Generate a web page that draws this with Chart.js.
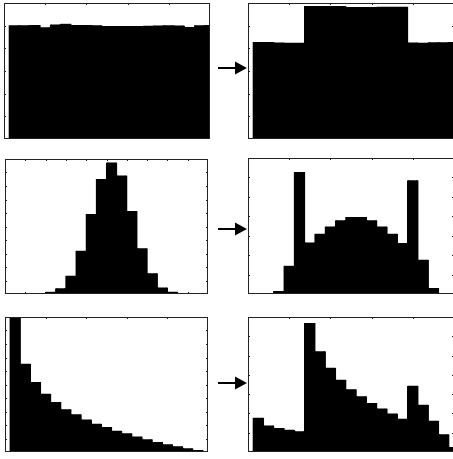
<!DOCTYPE html>
<html>
<head>
<meta charset="utf-8">
<script src="https://cdn.jsdelivr.net/npm/chart.js@4"></script>
<style>
  html, body { margin: 0; padding: 0; background: #fff; overflow: hidden; width: 453px; height: 459px; }
  .panel { position: absolute; }
  svg { position: absolute; left: 0; top: 0; pointer-events: none; }
</style>
</head>
<body>
<script>
// ---- data: bin centres and bar heights ----
const binCentersInt  = [1,2,3,4,5,6,7,8,9,10,11,12,13,14,15,16,17,18,19,20];
const binCentersHalf = [0.5,1.5,2.5,3.5,4.5,5.5,6.5,7.5,8.5,9.5,10.5,11.5,12.5,13.5,14.5,15.5,16.5,17.5,18.5,19.5];

const uniformBefore = [5.02,5.02,5.03,4.93,5.05,5.08,5.03,5.03,5.02,4.99,4.99,4.99,4.99,5.00,5.01,5.02,5.01,4.94,5.02,5.03];
const uniformAfter  = [4.28,4.28,4.26,4.25,4.25,5.87,5.87,5.87,5.87,5.82,5.82,5.82,5.84,5.84,5.84,4.26,4.25,4.27,4.27,4.28];
const gaussBefore   = [0,0,0,0,0.16,0.42,1.36,3.21,5.93,8.52,9.75,8.77,6.15,3.38,1.53,0.49,0.17,0,0,0];
const gaussAfter    = [0,0,0.15,1.45,6.28,2.65,3.10,3.48,3.79,3.96,3.96,3.79,3.48,3.10,2.62,5.85,1.76,0.31,0,0];
const expBefore     = [10.5,6.54,5.19,4.32,3.70,3.16,2.79,2.40,2.10,1.85,1.58,1.39,1.14,0.94,0.74,0.57,0.42,0.28,0.14,0.05];
const expAfter      = [1.78,1.38,1.24,1.16,1.07,6.69,5.22,4.37,3.75,3.25,2.89,2.54,2.25,1.99,1.73,3.44,2.45,1.62,0.92,0.26];

// tick positions
const xTicksEvery4 = [4,8,12,16];
const xTicksEvery2 = [2,4,6,8,10,12,14,16,18];
const yTicks6  = [1,2,3,4,5];
const yTicks7  = [1,2,3,4,5,6];
const yTicks10 = [1,2,3,4,5,6,7,8,9];

// ---- layout (box left, top, width, height in page pixels) ----
const panels = [
  { box: [4, 3, 206, 136],   centers: binCentersInt,  values: uniformBefore, yMax: 6,  xTicks: xTicksEvery4, yTicks: yTicks6 },
  { box: [248, 3, 206, 136], centers: binCentersInt,  values: uniformAfter,  yMax: 6,  xTicks: xTicksEvery4, yTicks: yTicks6 },
  { box: [5, 159, 203, 135], centers: binCentersHalf, values: gaussBefore,   yMax: 10, xTicks: xTicksEvery2, yTicks: yTicks10 },
  { box: [248, 158, 206, 136], centers: binCentersInt, values: gaussAfter,   yMax: 7,  xTicks: xTicksEvery4, yTicks: yTicks7 },
  { box: [5, 317, 203, 135], centers: binCentersInt,  values: expBefore,     yMax: 10, xTicks: xTicksEvery4, yTicks: yTicks10 },
  { box: [248, 317, 206, 135], centers: binCentersInt, values: expAfter,     yMax: 7,  xTicks: xTicksEvery4, yTicks: yTicks7 }
];
const arrowYs = [68, 229, 383];

const PAD = 2;
const TICK = 2;

const boxPlugin = {
  id: 'matlabBox',
  beforeDatasetsDraw(chart, args, opts) {
    const { ctx, chartArea: a, scales } = chart;
    ctx.save();
    ctx.strokeStyle = '#222';
    ctx.lineWidth = 1;
    ctx.beginPath();
    (opts.xTicks || []).forEach(v => {
      const px = Math.round(scales.x.getPixelForValue(v)) + 0.5;
      ctx.moveTo(px, a.top); ctx.lineTo(px, a.top + TICK);
      ctx.moveTo(px, a.bottom); ctx.lineTo(px, a.bottom - TICK);
    });
    (opts.yTicks || []).forEach(v => {
      const py = Math.round(scales.y.getPixelForValue(v)) + 0.5;
      ctx.moveTo(a.left, py); ctx.lineTo(a.left + TICK, py);
      ctx.moveTo(a.right, py); ctx.lineTo(a.right - TICK, py);
    });
    ctx.stroke();
    ctx.restore();
  },
  afterDatasetsDraw(chart) {
    const { ctx, chartArea: a } = chart;
    ctx.save();
    ctx.strokeStyle = '#222';
    ctx.lineWidth = 1;
    ctx.strokeRect(Math.round(a.left) + 0.5, Math.round(a.top) + 0.5,
                   Math.round(a.right - a.left) - 1, Math.round(a.bottom - a.top) - 1);
    ctx.restore();
  }
};

panels.forEach(p => {
  const [L, T, W, H] = p.box;
  const div = document.createElement('div');
  div.className = 'panel';
  div.style.left = (L - PAD) + 'px';
  div.style.top = (T - PAD) + 'px';
  const cv = document.createElement('canvas');
  cv.width = W + 2 * PAD;
  cv.height = H + 2 * PAD;
  cv.style.width = cv.width + 'px';
  cv.style.height = cv.height + 'px';
  div.appendChild(cv);
  document.body.appendChild(div);

  new Chart(cv, {
    type: 'bar',
    data: {
      datasets: [{
        data: p.centers.map((c, i) => ({ x: c, y: p.values[i] })),
        backgroundColor: '#000',
        borderColor: '#000',
        borderWidth: { left: 1, right: 1, top: 0, bottom: 0 },
        borderSkipped: false,
        inflateAmount: 0.7,
        barPercentage: 1,
        categoryPercentage: 1
      }]
    },
    options: {
      responsive: false,
      devicePixelRatio: 1,
      animation: false,
      layout: { padding: PAD },
      scales: {
        x: { type: 'linear', min: 0, max: 20, offset: false, display: false },
        y: { type: 'linear', min: 0, max: p.yMax, display: false }
      },
      plugins: {
        legend: { display: false },
        tooltip: { enabled: false },
        matlabBox: { xTicks: p.xTicks, yTicks: p.yTicks }
      }
    },
    plugins: [boxPlugin]
  });
});

// arrows between the panels
const svgNS = 'http://www.w3.org/2000/svg';
const svg = document.createElementNS(svgNS, 'svg');
svg.setAttribute('width', '453');
svg.setAttribute('height', '459');
arrowYs.forEach(y => {
  const line = document.createElementNS(svgNS, 'line');
  line.setAttribute('x1', '218'); line.setAttribute('y1', y);
  line.setAttribute('x2', '237'); line.setAttribute('y2', y);
  line.setAttribute('stroke', '#000'); line.setAttribute('stroke-width', '2');
  svg.appendChild(line);
  const head = document.createElementNS(svgNS, 'polygon');
  head.setAttribute('points', `235,${y - 6.5} 247,${y} 235,${y + 6.5}`);
  head.setAttribute('fill', '#000');
  svg.appendChild(head);
});
document.body.appendChild(svg);
</script>
</body>
</html>
